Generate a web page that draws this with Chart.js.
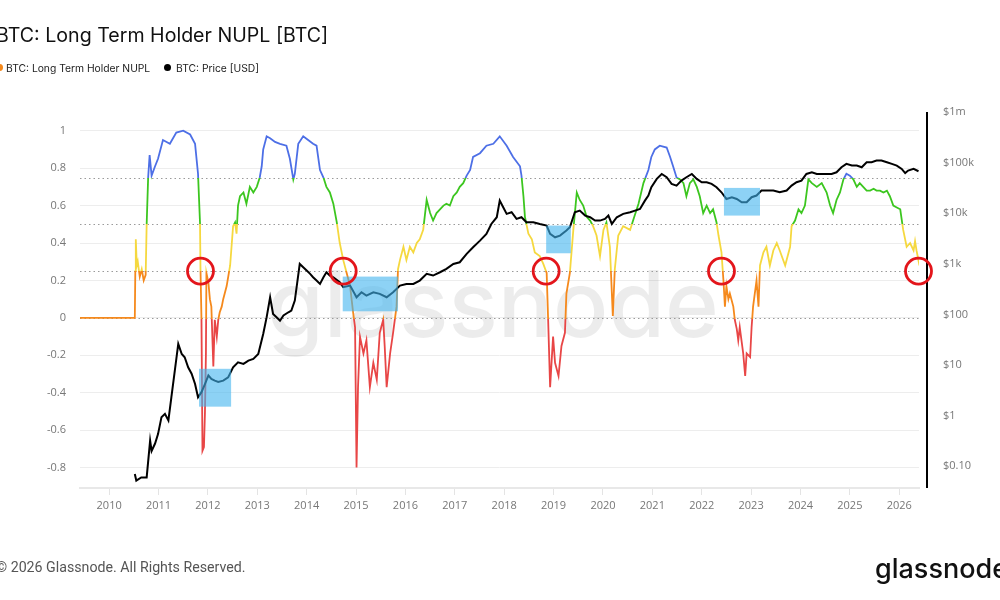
<!DOCTYPE html>
<html>
<head>
<meta charset="utf-8">
<script src="https://cdn.jsdelivr.net/npm/chart.js@4.4.1/dist/chart.umd.min.js"></script>
<style>
  html, body { margin: 0; padding: 0; background: #fff; }
  body { width: 1000px; height: 600px; position: relative; overflow: hidden; font-family: Inter, "Noto Sans", sans-serif; }
  #chart { position: absolute; left: 0; top: 0; }
  #title { position: absolute; left: -4px; top: 23px; font-size: 19.6px; color: #111; white-space: nowrap; }
  .legend { position: absolute; top: 61px; font-size: 10.3px; color: #222; white-space: nowrap; line-height: 14px; }
  .dot { position: absolute; top: 64px; width: 7px; height: 7px; border-radius: 50%; }
  #footer { position: absolute; left: -4px; top: 559px; font-size: 14.2px; color: #555; font-family: Roboto, sans-serif; white-space: nowrap; }
  #logo { position: absolute; left: 875px; top: 552px; font-size: 27px; color: #111; font-weight: 500; white-space: nowrap; }
</style>
</head>
<body>
<canvas id="chart" width="1000" height="600"></canvas>
<div id="title">BTC: Long Term Holder NUPL [BTC]</div>
<span class="dot" style="left:-4px;background:#f5891c"></span>
<div class="legend" style="left:6px">BTC: Long Term Holder NUPL</div>
<span class="dot" style="left:164px;background:#000"></span>
<div class="legend" style="left:176px">BTC: Price [USD]</div>
<div id="footer">© 2026 Glassnode. All Rights Reserved.</div>
<div id="logo">glassnode</div>
<script>
// LTH NUPL (decimal year, ratio)
const nuplYears = [
  2009.41, 2010.52, 2010.53, 2010.54, 2010.56, 2010.58, 2010.62, 2010.66, 2010.70, 2010.74,
  2010.76, 2010.79, 2010.82, 2010.86, 2010.93, 2010.99, 2011.09, 2011.23, 2011.36, 2011.50,
  2011.64, 2011.74, 2011.80, 2011.84, 2011.85, 2011.87, 2011.89, 2011.92, 2011.94, 2011.96,
  2011.97, 2012.01, 2012.04, 2012.07, 2012.09, 2012.11, 2012.14, 2012.18, 2012.21, 2012.24,
  2012.28, 2012.31, 2012.38, 2012.45, 2012.51, 2012.55, 2012.58, 2012.61, 2012.65, 2012.72,
  2012.78, 2012.85, 2012.92, 2012.99, 2013.05, 2013.09, 2013.12, 2013.19, 2013.26, 2013.36,
  2013.46, 2013.59, 2013.66, 2013.73, 2013.76, 2013.83, 2013.93, 2014.03, 2014.13, 2014.20,
  2014.27, 2014.34, 2014.40, 2014.47, 2014.54, 2014.61, 2014.67, 2014.74, 2014.81, 2014.88,
  2014.94, 2014.98, 2015.01, 2015.04, 2015.08, 2015.15, 2015.21, 2015.28, 2015.35, 2015.42,
  2015.48, 2015.55, 2015.58, 2015.62, 2015.69, 2015.75, 2015.82, 2015.85, 2015.89, 2015.96,
  2016.02, 2016.09, 2016.16, 2016.23, 2016.29, 2016.36, 2016.43, 2016.50, 2016.56, 2016.63,
  2016.70, 2016.77, 2016.83, 2016.90, 2016.97, 2017.04, 2017.10, 2017.17, 2017.24, 2017.31,
  2017.37, 2017.51, 2017.64, 2017.78, 2017.91, 2018.05, 2018.18, 2018.32, 2018.35, 2018.39,
  2018.42, 2018.49, 2018.56, 2018.62, 2018.72, 2018.79, 2018.86, 2018.89, 2018.93, 2018.99,
  2019.03, 2019.10, 2019.16, 2019.23, 2019.26, 2019.33, 2019.40, 2019.47, 2019.53, 2019.60,
  2019.67, 2019.74, 2019.80, 2019.87, 2019.94, 2020.01, 2020.07, 2020.14, 2020.20, 2020.24,
  2020.31, 2020.41, 2020.55, 2020.61, 2020.72, 2020.82, 2020.92, 2020.98, 2021.05, 2021.15,
  2021.29, 2021.36, 2021.42, 2021.49, 2021.56, 2021.63, 2021.69, 2021.76, 2021.83, 2021.90,
  2021.96, 2022.03, 2022.10, 2022.17, 2022.23, 2022.30, 2022.34, 2022.40, 2022.44, 2022.47,
  2022.50, 2022.54, 2022.57, 2022.64, 2022.67, 2022.71, 2022.74, 2022.77, 2022.84, 2022.88,
  2022.91, 2022.98, 2023.01, 2023.04, 2023.11, 2023.15, 2023.18, 2023.25, 2023.31, 2023.38,
  2023.45, 2023.52, 2023.58, 2023.69, 2023.79, 2023.82, 2023.89, 2023.96, 2024.02, 2024.09,
  2024.16, 2024.23, 2024.33, 2024.43, 2024.53, 2024.60, 2024.66, 2024.73, 2024.80, 2024.87,
  2024.93, 2025.00, 2025.07, 2025.14, 2025.20, 2025.27, 2025.34, 2025.41, 2025.48, 2025.54,
  2025.61, 2025.68, 2025.75, 2025.81, 2025.88, 2025.95, 2026.02, 2026.08, 2026.15, 2026.22,
  2026.29, 2026.32, 2026.35, 2026.41
];
const nuplValues = [
  0, 0, 0.25, 0.42, 0.28, 0.30, 0.22, 0.26, 0.20, 0.23,
  0.50, 0.75, 0.87, 0.76, 0.81, 0.85, 0.95, 0.93, 0.99, 1.00,
  0.98, 0.93, 0.77, 0.51, 0.26, -0.01, -0.71, -0.69, -0.51, -0.19,
  0.24, 0.19, 0.10, 0.06, -0.10, -0.26, -0.01, -0.10, -0.01, 0.03,
  0.06, 0.10, 0.17, 0.28, 0.49, 0.51, 0.45, 0.60, 0.65, 0.67,
  0.61, 0.70, 0.67, 0.70, 0.75, 0.81, 0.90, 0.97, 0.96, 0.94,
  0.93, 0.92, 0.85, 0.74, 0.77, 0.93, 0.97, 0.95, 0.93, 0.92,
  0.79, 0.75, 0.70, 0.67, 0.61, 0.51, 0.40, 0.31, 0.24, 0.17,
  0.03, -0.05, -0.80, -0.37, -0.10, -0.19, -0.12, -0.37, -0.24, -0.33,
  -0.08, -0.01, -0.15, -0.37, -0.19, -0.08, 0.06, 0.26, 0.31, 0.38,
  0.31, 0.38, 0.35, 0.40, 0.42, 0.47, 0.63, 0.56, 0.52, 0.56,
  0.58, 0.60, 0.61, 0.60, 0.65, 0.67, 0.70, 0.72, 0.76, 0.79,
  0.86, 0.88, 0.92, 0.93, 0.97, 0.92, 0.86, 0.81, 0.76, 0.65,
  0.54, 0.45, 0.42, 0.35, 0.33, 0.29, 0.24, -0.01, -0.37, -0.10,
  -0.24, -0.31, -0.15, -0.08, 0.13, 0.24, 0.47, 0.67, 0.63, 0.60,
  0.54, 0.52, 0.49, 0.44, 0.33, 0.47, 0.51, 0.38, 0.01, 0.26,
  0.44, 0.49, 0.47, 0.52, 0.61, 0.72, 0.79, 0.86, 0.90, 0.92,
  0.91, 0.86, 0.81, 0.75, 0.74, 0.72, 0.65, 0.72, 0.74, 0.70,
  0.65, 0.56, 0.60, 0.56, 0.58, 0.51, 0.44, 0.35, 0.20, 0.06,
  0.17, 0.10, 0.13, 0.06, -0.01, -0.06, -0.12, -0.05, -0.19, -0.31,
  -0.19, -0.21, -0.05, 0.06, 0.20, 0.06, 0.28, 0.35, 0.38, 0.28,
  0.36, 0.40, 0.36, 0.28, 0.38, 0.49, 0.52, 0.58, 0.56, 0.60,
  0.74, 0.72, 0.70, 0.72, 0.67, 0.60, 0.56, 0.63, 0.67, 0.74,
  0.77, 0.76, 0.74, 0.70, 0.72, 0.70, 0.68, 0.68, 0.69, 0.68,
  0.68, 0.67, 0.68, 0.65, 0.60, 0.59, 0.58, 0.47, 0.38, 0.40,
  0.36, 0.41, 0.36, 0.28
];

// BTC price in USD (decimal year, price)
const priceYears = [
  2010.52, 2010.55, 2010.65, 2010.76, 2010.83, 2010.86, 2010.93, 2010.99, 2011.06, 2011.13,
  2011.20, 2011.26, 2011.33, 2011.40, 2011.47, 2011.53, 2011.60, 2011.67, 2011.74, 2011.80,
  2011.87, 2011.94, 2012.01, 2012.07, 2012.14, 2012.21, 2012.31, 2012.41, 2012.51, 2012.61,
  2012.72, 2012.82, 2012.92, 2013.02, 2013.12, 2013.19, 2013.26, 2013.32, 2013.39, 2013.46,
  2013.53, 2013.63, 2013.69, 2013.76, 2013.86, 2013.93, 2014.00, 2014.07, 2014.13, 2014.20,
  2014.27, 2014.34, 2014.40, 2014.47, 2014.54, 2014.67, 2014.74, 2014.88, 2015.01, 2015.11,
  2015.21, 2015.35, 2015.48, 2015.62, 2015.75, 2015.89, 2016.02, 2016.16, 2016.29, 2016.43,
  2016.56, 2016.70, 2016.83, 2016.97, 2017.10, 2017.24, 2017.37, 2017.51, 2017.64, 2017.74,
  2017.85, 2017.91, 2017.98, 2018.05, 2018.15, 2018.25, 2018.35, 2018.45, 2018.59, 2018.72,
  2018.86, 2018.93, 2019.03, 2019.13, 2019.26, 2019.33, 2019.43, 2019.53, 2019.64, 2019.74,
  2019.84, 2019.94, 2020.04, 2020.11, 2020.18, 2020.28, 2020.41, 2020.55, 2020.65, 2020.75,
  2020.85, 2020.92, 2020.98, 2021.09, 2021.19, 2021.29, 2021.39, 2021.49, 2021.59, 2021.69,
  2021.80, 2021.90, 2022.00, 2022.10, 2022.20, 2022.30, 2022.40, 2022.50, 2022.61, 2022.71,
  2022.81, 2022.91, 2023.01, 2023.11, 2023.21, 2023.35, 2023.45, 2023.58, 2023.72, 2023.82,
  2023.92, 2024.02, 2024.12, 2024.23, 2024.33, 2024.43, 2024.53, 2024.63, 2024.73, 2024.83,
  2024.93, 2025.04, 2025.14, 2025.24, 2025.34, 2025.44, 2025.54, 2025.64, 2025.75, 2025.85,
  2025.95, 2026.05, 2026.12, 2026.18, 2026.29, 2026.39
];
const priceValues = [
  0.07, 0.052, 0.06, 0.06, 0.32, 0.2, 0.28, 0.43, 0.93, 1.08,
  0.8, 2.3, 7.7, 26, 16.5, 14.2, 9, 6.7, 4.2, 2.3,
  2.9, 4.2, 6.2, 5.3, 4.9, 4.6, 4.9, 5.7, 9, 11.3,
  10.5, 12.2, 13.2, 16.5, 41, 88, 218, 102, 88, 75,
  95, 110, 119, 187, 994, 855, 734, 631, 542, 466,
  400, 540, 680, 585, 542, 432, 344, 371, 218, 274,
  235, 274, 254, 218, 274, 371, 400, 400, 466, 631,
  585, 680, 792, 994, 1072, 1566, 2123, 2872, 3894, 6130,
  8310, 17700, 13100, 9680, 10430, 7700, 8310, 6620, 6620, 6130,
  5690, 3894, 3340, 3610, 4530, 5270, 10430, 11250, 8970, 8310,
  7140, 7140, 7700, 8970, 6130, 8310, 9680, 10430, 11250, 12140,
  17700, 22300, 32600, 47600, 59700, 51300, 37900, 35100, 44100, 51300,
  59700, 47600, 40900, 40900, 37900, 32600, 25900, 19100, 20700, 19100,
  16400, 16400, 20700, 22300, 28000, 28000, 28000, 25900, 28000, 35100,
  40900, 44100, 59700, 64400, 59700, 59700, 59700, 59700, 64400, 80900,
  94200, 87300, 87300, 80900, 101600, 101600, 109600, 109600, 101600, 94200,
  87300, 75000, 62000, 69500, 75000, 67400
];

const yearTicks = [2010, 2011, 2012, 2013, 2014, 2015, 2016, 2017, 2018, 2019, 2020, 2021, 2022, 2023, 2024, 2025, 2026];
const nuplTicks = [-0.8, -0.6, -0.4, -0.2, 0, 0.2, 0.4, 0.6, 0.8, 1];
const priceTicks = [0.1, 1, 10, 100, 1000, 10000, 100000, 1000000];
const priceTickLabels = ['$0.10', '$1', '$10', '$100', '$1k', '$10k', '$100k', '$1m'];

// NUPL zone edges (top to bottom) and zone colours
const bandEdges = [0.75, 0.5, 0.25, 0];
const bandColors = ['#4d6fe6', '#3cc61f', '#f5d83f', '#f5891c', '#e84646'];

// highlight boxes on the price line: [fromYear, toYear, lowPrice, highPrice]
const highlightBoxes = [
  [2011.82, 2012.47, 1.5, 8.4],
  [2014.73, 2015.85, 115, 558],
  [2018.85, 2019.35, 1614, 5690],
  [2022.45, 2023.18, 8970, 31600]
];
// red rings on the NUPL 0.25 line
const ringYears = [2011.85, 2014.74, 2018.85, 2022.40, 2026.39];
const ringLevel = 0.25;

function bandGradient(chart) {
  const { ctx, chartArea, scales } = chart;
  if (!chartArea) return bandColors[2];
  const top = chartArea.top, h = chartArea.bottom - chartArea.top;
  const g = ctx.createLinearGradient(0, top, 0, chartArea.bottom);
  const pos = (v, shift) => Math.min(1, Math.max(0, (scales.y.getPixelForValue(v) + shift - top) / h));
  g.addColorStop(0, bandColors[0]);
  bandEdges.forEach((v, i) => {
    const p = pos(v, v === 0 ? 1.5 : 0);
    g.addColorStop(p, bandColors[i]);
    g.addColorStop(p, bandColors[i + 1]);
  });
  g.addColorStop(1, bandColors[bandColors.length - 1]);
  return g;
}

const overlays = {
  id: 'overlays',
  beforeDatasetsDraw(chart) {
    const { ctx, chartArea: a, scales } = chart;
    ctx.save();
    // watermark
    ctx.font = '500 100px Inter';
    const w = ctx.measureText('glassnode').width;
    ctx.font = '500 ' + (100 * 452 / w) + 'px Inter';
    ctx.fillStyle = 'rgba(0,0,0,0.075)';
    ctx.fillText('glassnode', 267, 337);
    // dotted zone lines
    ctx.setLineDash([1.5, 3]);
    ctx.strokeStyle = '#9a9a9a';
    ctx.lineWidth = 1;
    bandEdges.forEach(v => {
      const y = Math.round(scales.y.getPixelForValue(v)) + 0.5;
      ctx.beginPath();
      ctx.moveTo(a.left, y);
      ctx.lineTo(a.right, y);
      ctx.stroke();
    });
    ctx.restore();
  },
  afterDatasetsDraw(chart) {
    const { ctx, scales } = chart;
    ctx.save();
    ctx.fillStyle = 'rgba(65,180,238,0.6)';
    highlightBoxes.forEach(([x0, x1, p0, p1]) => {
      const l = scales.x.getPixelForValue(x0), r = scales.x.getPixelForValue(x1);
      const t = scales.y1.getPixelForValue(p1), b = scales.y1.getPixelForValue(p0);
      ctx.fillRect(l, t, r - l, b - t);
    });
    ctx.restore();
  },
  afterDraw(chart) {
    const { ctx, chartArea: a, scales } = chart;
    ctx.save();
    // right axis line
    ctx.strokeStyle = '#000';
    ctx.lineWidth = 2;
    ctx.beginPath();
    ctx.moveTo(a.right + 8, a.top);
    ctx.lineTo(a.right + 8, a.bottom);
    ctx.stroke();
    // rings
    ctx.strokeStyle = '#e3151b';
    ctx.lineWidth = 2.8;
    ringYears.forEach(yr => {
      ctx.beginPath();
      ctx.arc(scales.x.getPixelForValue(yr), scales.y.getPixelForValue(ringLevel), 13, 0, Math.PI * 2);
      ctx.stroke();
    });
    ctx.restore();
  }
};

const tickFont = { family: '"Open Sans", sans-serif', size: 11 };

new Chart(document.getElementById('chart'), {
  type: 'line',
  data: {
    datasets: [
      {
        label: 'BTC: Price [USD]',
        data: priceYears.map((x, i) => ({ x, y: priceValues[i] })),
        yAxisID: 'y1',
        borderColor: '#000',
        borderWidth: 2,
        pointRadius: 0,
        tension: 0
      },
      {
        label: 'BTC: Long Term Holder NUPL',
        data: nuplYears.map((x, i) => ({ x, y: nuplValues[i] })),
        yAxisID: 'y',
        borderColor: ctx => bandGradient(ctx.chart),
        borderWidth: 1.8,
        pointRadius: 0,
        tension: 0,
        order: 1
      }
    ]
  },
  options: {
    responsive: false,
    animation: false,
    layout: { padding: { top: 112, left: 0, right: 0, bottom: 0 } },
    plugins: { legend: { display: false }, tooltip: { enabled: false } },
    scales: {
      x: {
        type: 'linear',
        min: 2009.41,
        max: 2026.4,
        afterBuildTicks: s => { s.ticks = yearTicks.map(v => ({ value: v })); },
        afterFit: s => { s.height = 112; },
        ticks: { color: '#777', font: tickFont, padding: 4, maxRotation: 0, callback: v => String(v) },
        grid: { drawOnChartArea: false, drawTicks: true, tickLength: 7, color: '#e4e4e4' },
        border: { color: '#e8e8e8', width: 2 }
      },
      y: {
        position: 'left',
        min: -0.909,
        max: 1.1,
        afterBuildTicks: s => { s.ticks = nuplTicks.map(v => ({ value: v })); },
        afterFit: s => { s.width = 80; },
        ticks: { color: '#777', font: tickFont, padding: 14, callback: v => String(Math.round(v * 10) / 10) },
        grid: { color: '#ededed', drawTicks: false },
        border: { display: false }
      },
      y1: {
        type: 'logarithmic',
        position: 'right',
        min: 0.037,
        max: 1000000,
        afterBuildTicks: s => { s.ticks = priceTicks.map(v => ({ value: v })); },
        afterFit: s => { s.width = 81; },
        ticks: { color: '#777', font: tickFont, padding: 16, callback: v => priceTickLabels[priceTicks.indexOf(v)] },
        grid: { display: false },
        border: { display: false }
      }
    }
  },
  plugins: [overlays]
});
</script>
</body>
</html>
